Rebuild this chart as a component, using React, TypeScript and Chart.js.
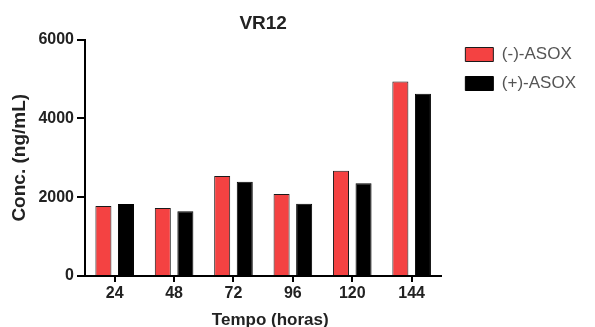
import React, { useEffect, useRef } from "react";
import { Chart, registerables } from "chart.js";

Chart.register(...registerables);

const categories = ["24", "48", "72", "96", "120", "144"];
const minusAsox = [1775, 1725, 2535, 2078, 2670, 4935];
const plusAsox = [1825, 1640, 2390, 1833, 2350, 4622];
const yTicks = [0, 2000, 4000, 6000];
const seriesNames = ["(-)-ASOX", "(+)-ASOX"];
const titleText = "VR12";
const xTitle = "\u00a0\u00a0\u00a0Tempo (horas)";
const yTitle = "Conc. (ng/mL)";

const FONT = 'Arial, "Liberation Sans", sans-serif';

const legendShift = {
  id: "legendShift",
  afterLayout(chart: any) {
    const lg = chart.legend;
    if (lg) {
      lg.left += 12;
      lg.right += 12;
    }
  },
};

export default function App() {
  const ref = useRef<HTMLCanvasElement | null>(null);

  useEffect(() => {
    if (!ref.current) return;
    const chart = new Chart(ref.current, {
      type: "bar",
      data: {
        labels: categories,
        datasets: [
          {
            label: seriesNames[0],
            data: minusAsox,
            backgroundColor: "#f44242",
            borderColor: "#1a1a1a",
            borderWidth: 1,
            categoryPercentage: 0.76,
            barPercentage: 0.71,
          },
          {
            label: seriesNames[1],
            data: plusAsox,
            backgroundColor: "#000000",
            borderColor: "#000000",
            borderWidth: 1,
            categoryPercentage: 0.76,
            barPercentage: 0.71,
          },
        ],
      },
      plugins: [legendShift],
      options: {
        responsive: false,
        animation: false,
        layout: { padding: { left: 0, right: 21, top: 0, bottom: 0 } },
        plugins: {
          title: {
            display: true,
            text: titleText,
            fullSize: false,
            color: "#222",
            font: { family: FONT, size: 19, weight: "bold" },
            padding: { top: 12, bottom: 4.7 },
          },
          legend: {
            display: true,
            position: "right",
            align: "start",
            title: {
              display: true,
              text: " ",
              font: { family: FONT, size: 10 },
              padding: { top: 22, bottom: 0 },
            },
            labels: {
              boxWidth: 28,
              boxHeight: 14,
              padding: 12,
              color: "#555",
              font: { family: FONT, size: 17 },
            },
          },
          tooltip: { enabled: false },
        },
        scales: {
          x: {
            type: "category",
            offset: true,
            grid: {
              display: true,
              offset: false,
              drawOnChartArea: false,
              drawTicks: true,
              tickLength: 6,
              color: "#000",
              lineWidth: 2,
            },
            border: { display: true, color: "#000", width: 2 },
            ticks: {
              color: "#222",
              padding: 2,
              font: { family: FONT, size: 16, weight: "bold" },
              maxRotation: 0,
            },
            title: {
              display: true,
              text: xTitle,
              color: "#222",
              font: { family: FONT, size: 17, weight: "bold" },
              padding: { top: 0, bottom: -4 },
            },
            afterFit: (s: any) => {
              s.height = 51;
            },
          },
          y: {
            type: "linear",
            position: "left",
            min: 0,
            max: 6000,
            afterBuildTicks: (s: any) => {
              s.ticks = yTicks.map((v) => ({ value: v }));
            },
            grid: {
              display: true,
              drawOnChartArea: false,
              drawTicks: true,
              tickLength: 8,
              color: "#000",
              lineWidth: 2,
            },
            border: { display: true, color: "#000", width: 2 },
            ticks: {
              color: "#222",
              padding: 3,
              font: { family: FONT, size: 16, weight: "bold" },
              callback: (v: any) => String(v),
            },
            title: {
              display: true,
              text: yTitle,
              color: "#222",
              font: { family: FONT, size: 19, weight: "bold" },
              padding: { top: 8.6, bottom: 0 },
            },
            afterFit: (s: any) => {
              s.width = 85;
            },
          },
        },
      },
    });
    return () => chart.destroy();
  }, []);

  return (
    <div style={{ position: "fixed", left: 0, top: 0, width: 595, height: 327, background: "#fff" }}>
      <canvas ref={ref} width={595} height={327} style={{ display: "block" }} />
    </div>
  );
}
